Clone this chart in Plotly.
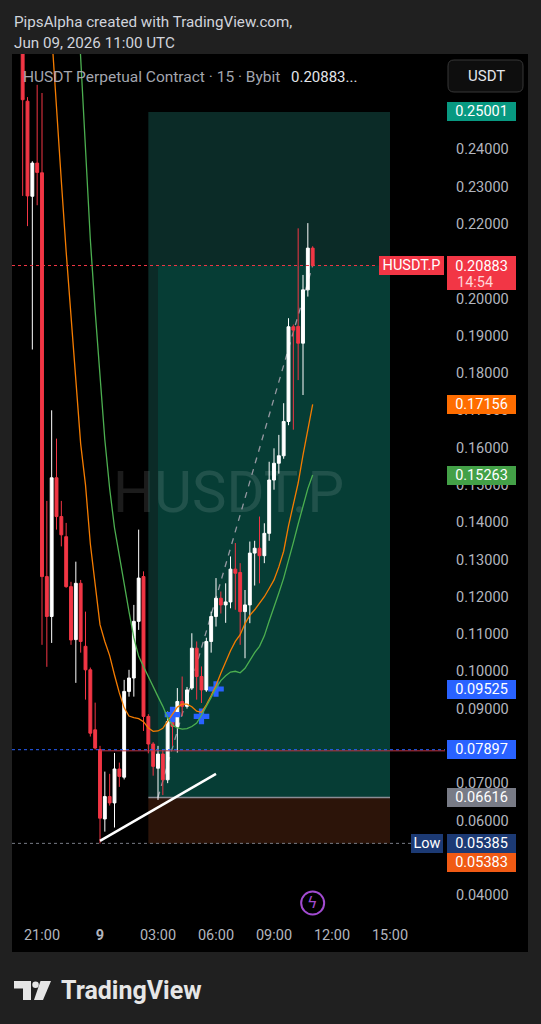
import plotly.graph_objects as go
import pandas as pd

# ---------------- data ----------------
bar_times = pd.date_range("2026-06-08 20:00", periods=61, freq="15min")

opens = [0.2720, 0.2529, 0.2274, 0.2363, 0.2337, 0.1254, 0.1147, 0.1519, 0.1415, 0.1361,
         0.1227, 0.1085, 0.1236, 0.1067, 0.1004, 0.0843, 0.0790, 0.0604, 0.0664, 0.0647,
         0.0738, 0.0716, 0.0946, 0.0982, 0.1134, 0.1254, 0.0879, 0.0805, 0.0740, 0.0778,
         0.0709, 0.0888, 0.0852, 0.0919, 0.0906, 0.0955, 0.1062, 0.0986, 0.0950, 0.1080,
         0.1147, 0.1196, 0.1178, 0.1186, 0.1274, 0.1265, 0.1160, 0.1178, 0.1317, 0.1330,
         0.1310, 0.1370, 0.1513, 0.1558, 0.1578, 0.1670, 0.1924, 0.1925, 0.1880, 0.2023,
         0.2135]
highs = [0.2800, 0.2540, 0.2368, 0.2573, 0.2551, 0.1457, 0.1700, 0.1624, 0.1457, 0.1398,
         0.1240, 0.1294, 0.1245, 0.1160, 0.1010, 0.0916, 0.0800, 0.0731, 0.0725, 0.0781,
         0.0755, 0.0977, 0.1004, 0.1178, 0.1380, 0.1268, 0.0885, 0.0810, 0.0800, 0.0790,
         0.0892, 0.0895, 0.0955, 0.0986, 0.0958, 0.1102, 0.1080, 0.1013, 0.1090, 0.1160,
         0.1250, 0.1214, 0.1236, 0.1308, 0.1344, 0.1290, 0.1218, 0.1348, 0.1350, 0.1415,
         0.1397, 0.1562, 0.1598, 0.1634, 0.1719, 0.1947, 0.1930, 0.2188, 0.2063, 0.2202,
         0.2140]
lows = [0.2275, 0.2194, 0.1863, 0.2250, 0.1071, 0.1012, 0.1076, 0.1380, 0.1335, 0.1224,
        0.1071, 0.0969, 0.1050, 0.0924, 0.0825, 0.0790, 0.05385, 0.0570, 0.0640, 0.0581,
        0.0690, 0.0710, 0.0932, 0.0932, 0.1111, 0.0840, 0.0780, 0.0720, 0.0655, 0.0668,
        0.0700, 0.0800, 0.0782, 0.0880, 0.0900, 0.0950, 0.0924, 0.0915, 0.0945, 0.1050,
        0.1120, 0.1155, 0.1130, 0.1169, 0.1165, 0.1071, 0.1035, 0.1129, 0.1230, 0.1236,
        0.1290, 0.1350, 0.1487, 0.1530, 0.1570, 0.1660, 0.1648, 0.1781, 0.1741, 0.2005,
        0.2085]
closes = [0.2533, 0.2275, 0.2363, 0.2338, 0.1254, 0.1147, 0.1519, 0.1415, 0.1366, 0.1227,
          0.1084, 0.1236, 0.1080, 0.1004, 0.0834, 0.0794, 0.0606, 0.0664, 0.0647, 0.0738,
          0.0718, 0.0946, 0.0982, 0.1134, 0.1250, 0.0879, 0.0805, 0.0745, 0.0778, 0.0709,
          0.0865, 0.0852, 0.0919, 0.0906, 0.0950, 0.1062, 0.0986, 0.0950, 0.1080, 0.1147,
          0.1196, 0.1178, 0.1186, 0.1274, 0.1263, 0.1160, 0.1178, 0.1317, 0.1330, 0.1310,
          0.1370, 0.1513, 0.1558, 0.1578, 0.1670, 0.1924, 0.1915, 0.1880, 0.2023, 0.2135,
          0.20883]

ema_fast = [0.372, 0.356, 0.340, 0.324, 0.307, 0.290, 0.271, 0.2502, 0.2315, 0.2125,
            0.1949, 0.1776, 0.1610, 0.1500, 0.1342, 0.1233, 0.1125, 0.1080, 0.1042, 0.0990,
            0.0942, 0.0902, 0.0880, 0.0876, 0.0873, 0.0865, 0.0848, 0.0839, 0.0840, 0.0847,
            0.0866, 0.0888, 0.0904, 0.0912, 0.0912, 0.0905, 0.0893, 0.0890, 0.0910, 0.0935,
            0.0962, 0.0995, 0.1027, 0.1055, 0.1080, 0.1098, 0.1128, 0.1150, 0.1165, 0.1182,
            0.1200, 0.1222, 0.1245, 0.1280, 0.1322, 0.1390, 0.1445, 0.1505, 0.1580, 0.1650,
            0.17156]
ema_slow = [0.520, 0.500, 0.480, 0.460, 0.440, 0.420, 0.400, 0.380, 0.360, 0.335,
            0.312, 0.289, 0.2635, 0.2400, 0.2158, 0.1966, 0.1794, 0.1621, 0.1490, 0.1385,
            0.1310, 0.1232, 0.1160, 0.1090, 0.1040, 0.1013, 0.0985, 0.0960, 0.0932, 0.0906,
            0.0875, 0.0855, 0.0848, 0.0845, 0.0846, 0.0852, 0.0861, 0.0882, 0.0904, 0.0930,
            0.0955, 0.0975, 0.0988, 0.0998, 0.1000, 0.0996, 0.1008, 0.1030, 0.1050, 0.1067,
            0.1095, 0.1135, 0.1170, 0.1210, 0.1250, 0.1295, 0.1345, 0.1395, 0.1445, 0.1490,
            0.15263]

cross_times = ["2026-06-09 03:45", "2026-06-09 05:15", "2026-06-09 06:00"]
cross_prices = [0.0884, 0.0879, 0.09525]

# price scale labels visible in the reference (0.05, 0.08 and 0.21 are covered by price tags)
price_ticks = [0.04, 0.06, 0.07, 0.09, 0.10, 0.11, 0.12, 0.13, 0.14, 0.15, 0.16, 0.17,
               0.18, 0.19, 0.20, 0.22, 0.23, 0.24]
time_tickvals = ["2026-06-08 21:00", "2026-06-09 00:00", "2026-06-09 03:00", "2026-06-09 06:00",
                 "2026-06-09 09:00", "2026-06-09 12:00", "2026-06-09 15:00"]
time_ticktext = ["21:00", "<b>9</b>", "03:00", "06:00", "09:00", "12:00", "15:00"]

pos_start, pos_fill_start, pos_end = "2026-06-09 02:30", "2026-06-09 03:00", "2026-06-09 15:00"
entry_price, target_price, stop_price = 0.06616, 0.25001, 0.05383
last_price = 0.20883
low_price = 0.05385
level_price = 0.07897
level_start = "2026-06-09 00:00"
trend_times, trend_prices = ["2026-06-09 00:00", "2026-06-09 06:00"], [0.0545, 0.0725]
path_times, path_prices = ["2026-06-09 03:00", "2026-06-09 11:00"], [entry_price, last_price]
alert_time, alert_price = "2026-06-09 11:00", 0.03786

# ---------------- geometry / style ----------------
FIG_W, FIG_H = 541, 1024
PL, PR, PT, PB = 12, 445, 54, 921          # plot area in pixels
X_RANGE = ["2026-06-08 19:26:54", "2026-06-09 17:50:41"]
Y_RANGE = [0.033027, 0.265560]
FONT = "Roboto, 'Noto Sans', 'DejaVu Sans', sans-serif"
UP, DOWN = "#ffffff", "#f23645"
AXIS_TXT = "#b2b5be"


def px_x(px):
    return (px - PL) / (PR - PL)


def px_y(py):
    return (PB - py) / (PB - PT)


fig = go.Figure()

fig.add_trace(go.Candlestick(
    x=bar_times, open=opens, high=highs, low=lows, close=closes,
    increasing=dict(line=dict(color=UP, width=1), fillcolor=UP),
    decreasing=dict(line=dict(color=DOWN, width=1), fillcolor=DOWN),
    whiskerwidth=0, hoverinfo="skip", showlegend=False))

fig.add_trace(go.Scatter(x=cross_times, y=cross_prices, mode="markers",
                         marker=dict(symbol="cross", size=13, color="#2962ff", line=dict(width=0)),
                         hoverinfo="skip", showlegend=False))
fig.add_trace(go.Scatter(x=bar_times, y=ema_fast, mode="lines",
                         line=dict(color="#f57c00", width=1.3), hoverinfo="skip", showlegend=False))
fig.add_trace(go.Scatter(x=bar_times, y=ema_slow, mode="lines",
                         line=dict(color="#4caf50", width=1.3), hoverinfo="skip", showlegend=False))
fig.add_trace(go.Scatter(x=[alert_time], y=[alert_price], mode="markers",
                         marker=dict(symbol="circle-open", size=23, color="#a24bd1",
                                     line=dict(width=2, color="#a24bd1")),
                         hoverinfo="skip", showlegend=False, cliponaxis=False))

# center of the pane (for the watermark)
t0, t1 = pd.Timestamp(X_RANGE[0]), pd.Timestamp(X_RANGE[1])
x_mid = t0 + (t1 - t0) / 2
y_mid = (Y_RANGE[0] + Y_RANGE[1]) / 2

shapes = [
    # black pane
    dict(type="rect", xref="paper", yref="paper", x0=px_x(12), x1=px_x(528), y0=px_y(952), y1=px_y(54),
         fillcolor="#000000", line=dict(width=0), layer="below"),
    # long position tool
    dict(type="rect", xref="x", yref="y", x0=pos_start, x1=pos_end, y0=entry_price, y1=target_price,
         fillcolor="#0b2b27", line=dict(width=0), layer="below"),
    dict(type="rect", xref="x", yref="y", x0=pos_fill_start, x1=pos_end, y0=entry_price, y1=last_price,
         fillcolor="#063d35", line=dict(width=0), layer="below"),
    dict(type="rect", xref="x", yref="y", x0=pos_start, x1=pos_end, y0=stop_price, y1=entry_price,
         fillcolor="#2c1409", line=dict(width=0), layer="below"),
    dict(type="line", xref="x", yref="y", x0=pos_start, x1=pos_end, y0=entry_price, y1=entry_price,
         line=dict(color="#8a8d96", width=1.5), layer="below"),
    # watermark
    dict(type="rect", xref="x", yref="y", x0=x_mid - pd.Timedelta("1min"), x1=x_mid + pd.Timedelta("1min"),
         y0=y_mid - 0.001, y1=y_mid + 0.001, line=dict(width=0), fillcolor="rgba(0,0,0,0)", layer="below",
         label=dict(text="HUSDT.P", textposition="middle center",
                    font=dict(size=58, color="rgba(255,255,255,0.11)", family=FONT))),
    # horizontal levels
    dict(type="line", xref="paper", yref="y", x0=0, x1=px_x(378), y0=last_price, y1=last_price,
         line=dict(color="#f23645", width=1, dash="dot"), layer="above"),
    dict(type="line", xref="x", yref="y", x0=level_start, x1=X_RANGE[1], y0=level_price - 0.0003,
         y1=level_price - 0.0003, line=dict(color="#c2303f", width=1), layer="above"),
    dict(type="line", xref="paper", yref="y", x0=0, x1=1, y0=level_price, y1=level_price,
         line=dict(color="#2962ff", width=1, dash="dot"), layer="above"),
    dict(type="line", xref="paper", yref="y", x0=0, x1=px_x(411), y0=low_price, y1=low_price,
         line=dict(color="#787b86", width=1, dash="dot"), layer="above"),
    # drawings
    dict(type="line", xref="x", yref="y", x0=trend_times[0], x1=trend_times[1], y0=trend_prices[0],
         y1=trend_prices[1], line=dict(color="#ffffff", width=2.5), layer="above"),
    dict(type="line", xref="x", yref="y", x0=path_times[0], x1=path_times[1], y0=path_prices[0],
         y1=path_prices[1], line=dict(color="#9598a1", width=1.3, dash="6px,6px"), layer="below"),
]


def rounded_rect(x0, y0, x1, y1, r):
    # pixel coords -> paper path with rounded corners
    rx, ry = r / (PR - PL), r / (PB - PT)
    a0, a1 = px_x(x0), px_x(x1)
    b0, b1 = px_y(y1), px_y(y0)   # bottom, top in paper
    return (f"M{a0+rx},{b1} L{a1-rx},{b1} Q{a1},{b1} {a1},{b1-ry} L{a1},{b0+ry} Q{a1},{b0} {a1-rx},{b0} "
            f"L{a0+rx},{b0} Q{a0},{b0} {a0},{b0+ry} L{a0},{b1-ry} Q{a0},{b1} {a0+rx},{b1} Z")


def poly(points):
    return "M" + " L".join(f"{px_x(x)},{px_y(y)}" for x, y in points) + " Z"


shapes.append(dict(type="path", xref="paper", yref="paper", path=rounded_rect(448, 60, 523, 92, 6),
                   fillcolor="#0e0e0e", line=dict(color="#363636", width=1), layer="above"))
# TradingView logo
LOGO = "#e6e6e6"
shapes.append(dict(type="path", xref="paper", yref="paper",
                   path=poly([(14, 981), (31, 981), (31, 1000), (23, 1000), (23, 988.5), (14, 988.5)]),
                   fillcolor=LOGO, line=dict(width=0), layer="above"))
shapes.append(dict(type="circle", xref="paper", yref="paper", x0=px_x(32.3), x1=px_x(38.8),
                   y0=px_y(988), y1=px_y(981.5), fillcolor=LOGO, line=dict(width=0), layer="above"))
shapes.append(dict(type="path", xref="paper", yref="paper",
                   path=poly([(40.5, 981), (51, 981), (43, 1000), (34, 1000)]),
                   fillcolor=LOGO, line=dict(width=0), layer="above"))

annotations = []


def note(px, py, text, size=14, color="#d1d4dc", xanchor="left", **kw):
    annotations.append(dict(x=px_x(px), y=px_y(py), xref="paper", yref="paper", text=text,
                            showarrow=False, xanchor=xanchor, yanchor="middle",
                            font=dict(size=size, color=color, family=kw.pop("family", FONT)), **kw))


note(12, 22, "PipsAlpha created with TradingView.com,", size=15.2, color="#d1d4dc")
note(12, 43, "Jun 09, 2026 11:00 UTC", size=15.2, color="#d1d4dc")
note(21, 77, "HUSDT Perpetual Contract · 15 · Bybit", size=15.5, color="#a3a6af")
note(289, 77, "0.20883...", size=15, color="#e3e5ea")
note(486, 76, "USDT", size=15, color="#e3e5ea", xanchor="center")
note(59, 990, "<b>TradingView</b>", size=25, color=LOGO)


def tag(price, text, bg, fg="#ffffff", cx=481, w=66, yshift=0):
    annotations.append(dict(x=px_x(cx), xref="paper", xanchor="center", y=price, yref="y",
                            yanchor="middle", yshift=yshift, text=text, showarrow=False,
                            font=dict(size=14.5, color=fg, family=FONT), bgcolor=bg,
                            width=w, height=16, borderpad=1.5, borderwidth=0))


tag(target_price, f"{target_price:.5f}", "#089981")
tag(ema_fast[-1], f"{ema_fast[-1]:.5f}", "#ff6d00")
tag(ema_slow[-1], f"{ema_slow[-1]:.5f}", "#43a047")
tag(cross_prices[-1], f"{cross_prices[-1]:.5f}", "#2962ff")
tag(level_price, f"{level_price:.5f}", "#2962ff")
tag(entry_price, f"{entry_price:.5f}", "#787b86")
tag(low_price, f"{low_price:.5f}", "#1c3a74")
tag(stop_price, f"{stop_price:.5f}", "#f05a14", yshift=-19)
tag(low_price, "Low", "#1c3a74", cx=427, w=29)
tag(last_price, "HUSDT.P", "#f23645", cx=411, w=62)
# last price tag with countdown
annotations.append(dict(x=px_x(481), xref="paper", xanchor="center", y=last_price, yref="y",
                        yanchor="top", yshift=9.5, text=f"{last_price:.5f}", showarrow=False,
                        font=dict(size=14.5, color="#ffffff", family=FONT), bgcolor="#f23645",
                        width=66, height=31, valign="top", borderpad=1.5, borderwidth=0))
annotations.append(dict(x=px_x(455), xref="paper", xanchor="left", y=last_price, yref="y",
                        yanchor="middle", yshift=-17, text="14:54", showarrow=False,
                        font=dict(size=14.5, color="#ffd4d8", family=FONT)))
# alert bolt
annotations.append(dict(x=alert_time, y=alert_price, xref="x", yref="y", text="ϟ", showarrow=False,
                        xanchor="center", yanchor="middle",
                        font=dict(size=16, color="#a24bd1", family="DejaVu Sans")))

fig.update_layout(
    template="none",
    width=FIG_W, height=FIG_H,
    margin=dict(l=PL, r=FIG_W - PR, t=PT, b=FIG_H - PB, pad=0),
    paper_bgcolor="#202020", plot_bgcolor="rgba(0,0,0,0)",
    showlegend=False, boxgap=0.15, hovermode=False,
    shapes=shapes, annotations=annotations,
    xaxis=dict(type="date", range=X_RANGE, rangeslider=dict(visible=False), showgrid=False,
               zeroline=False, showline=False, ticks="", tickvals=time_tickvals, ticktext=time_ticktext,
               tickfont=dict(size=14.5, color=AXIS_TXT, family=FONT), automargin=False,
               ticklabelstandoff=3, fixedrange=True),
    yaxis=dict(range=Y_RANGE, side="right", showgrid=False, zeroline=False, showline=False, ticks="",
               tickvals=price_ticks, tickformat=".5f",
               tickfont=dict(size=14.5, color=AXIS_TXT, family=FONT), automargin=False,
               ticklabelstandoff=10, fixedrange=True),
)

fig.write_html("out.html", config={"displayModeBar": False},
               post_script="document.body.style.margin='0px';document.body.style.background='#202020';")
